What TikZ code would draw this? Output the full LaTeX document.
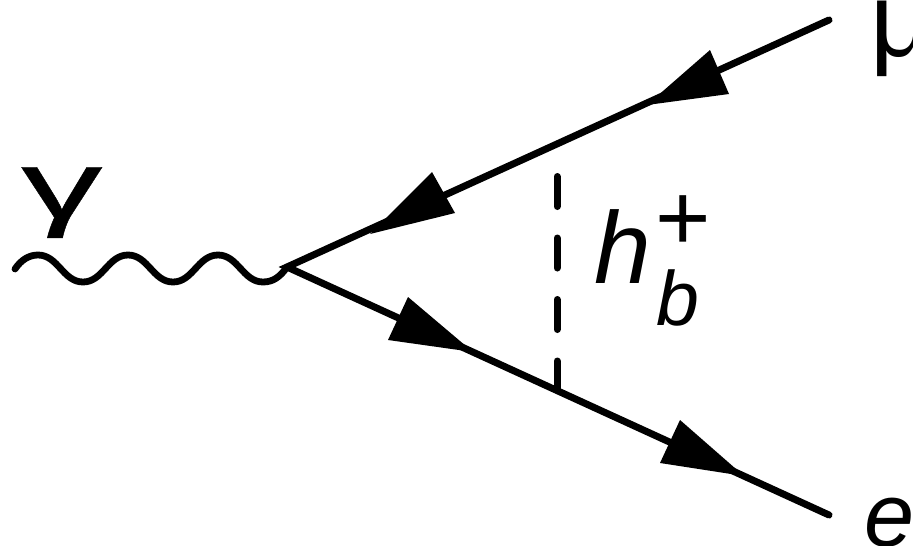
\documentclass[tikz,border=0pt]{standalone}
\usepackage{fontspec}
\setmainfont{Liberation Sans}
\newfontfamily\gamfont[FakeBold=0.3]{Liberation Sans}
\newcommand{\fs}[1]{\fontsize{#1}{#1}\selectfont}
\tikzset{
  x=1pt,y=-1pt,
  fermion/.style={draw=black,line width=7pt,line cap=round},
  head/.style={fill=black,draw=none},
  photon/.style={draw=black,line width=6.8pt,line cap=round},
  scalar/.style={draw=black,line width=7pt,line cap=round,dash pattern=on 30pt off 31.5pt},
  lab/.style={inner sep=0pt,outer sep=0pt,anchor=base west,text=black}
}
\begin{document}
\begin{tikzpicture}
\useasboundingbox (0,0) rectangle (913,546);
\coordinate (v) at (287,267);
\coordinate (mu) at (829,20);
\coordinate (el) at (829,515);
\coordinate (gs) at (15,269);
\coordinate (st) at (557,176.5);
\coordinate (sb) at (557,390.5);
\draw[fermion] (mu) -- (v) -- (el);
\fill[head] (647,105) -- (710,50) -- (729,94) -- cycle;
\fill[head] (370,234) -- (432,172) -- (455,213) -- cycle;
\fill[head] (473,352) -- (408,297) -- (388,340) -- cycle;
\fill[head] (744,476) -- (680,420) -- (660,463) -- cycle;
\draw[photon] (gs) .. controls (21,260) and (29,255) .. (38,255)
  .. controls (58,255) and (63,282) .. (83,282)
  .. controls (103,282) and (108,255) .. (128,255)
  .. controls (148,255) and (153,282) .. (173,282)
  .. controls (193,282) and (198,255) .. (218,255)
  .. controls (238,255) and (243,282) .. (263,282)
  .. controls (273,282) and (280,277) .. (v);
\draw[scalar] (st) -- (sb);
\node[lab,font=\fs{96}\gamfont,xscale=1.7] (g) at (21,218) {γ};
\node[lab,font=\fs{105}] (m) at (870,56) {μ};
\node[lab,font=\fs{102}\itshape] (h) at (594,283) {h};
\node[lab,font=\fs{77}\itshape] (b) at (656,325) {b};
\node[lab,font=\fs{95}] (p) at (655,250) {+};
\node[lab,font=\fs{90}\itshape] (e) at (864,546) {e};
\end{tikzpicture}
\end{document}
